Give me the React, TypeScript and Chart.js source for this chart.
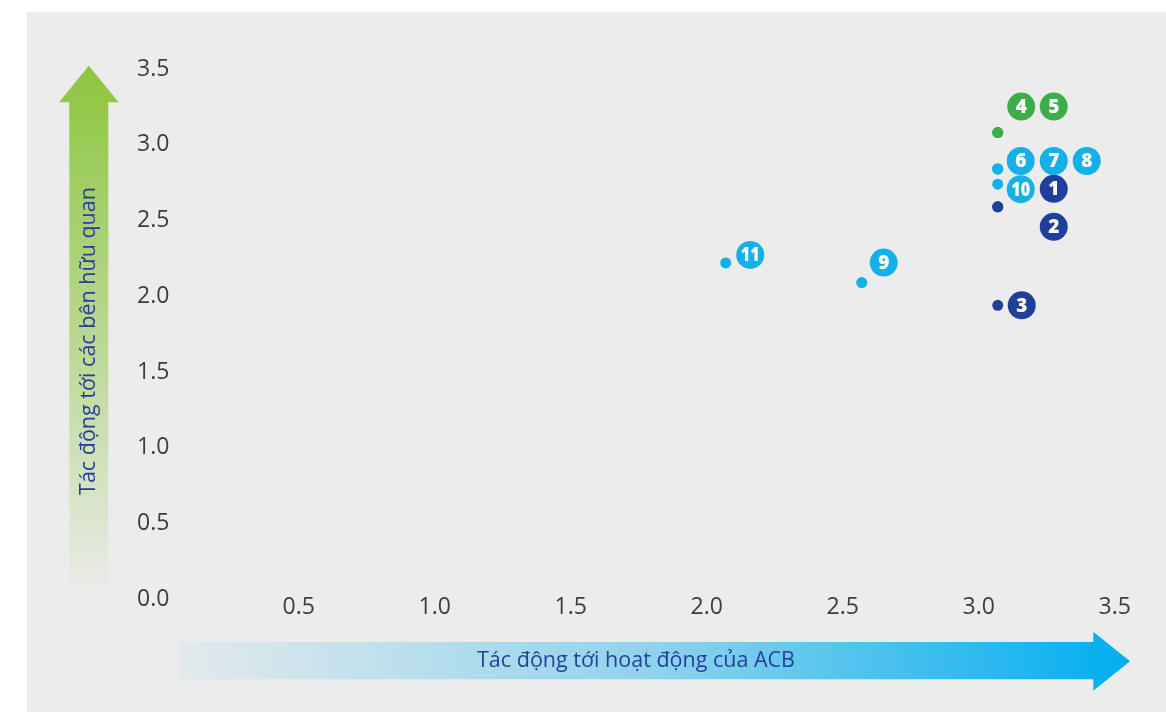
import { useEffect, useRef } from "react";
import { Chart, registerables } from "chart.js";

Chart.register(...registerables);

// Material topics: operational impact (x) vs. stakeholder impact (y)
const topicIds = [1, 2, 3, 4, 5, 6, 7, 8, 9, 10, 11];
const operationImpact = [3.07, 3.07, 3.07, 3.07, 3.07, 3.07, 3.07, 3.07, 2.57, 3.07, 2.07];
const stakeholderImpact = [2.59, 2.59, 1.94, 3.08, 3.08, 2.84, 2.84, 2.84, 2.09, 2.74, 2.22];
const topicGroups = ["navy", "navy", "navy", "green", "green", "cyan", "cyan", "cyan", "cyan", "cyan", "cyan"];
const groupOrder = ["navy", "cyan", "green"];
const axisTicks = [0, 0.5, 1, 1.5, 2, 2.5, 3, 3.5];
const xTitle = "Tác động tới hoạt động của ACB";
const yTitle = "Tác động tới các bên hữu quan";

const W = 1166;
const H = 712;

const groupColors: Record<string, string> = {
  navy: "#203f99",
  cyan: "#16b0e8",
  green: "#3dad4a",
};

// Number badge placement relative to its dot, in pixels
const badgeOffsets: [number, number][] = [
  [56, -18], [56, 20], [24, 0], [23.5, -26], [56, -26], [23, -8],
  [56, -8], [89, -8], [22, -20], [23, 5], [24.5, -8],
];

const TICK_FONT = { family: "'Open Sans', sans-serif", size: 23 };

const backdrop = {
  id: "backdrop",
  beforeDraw(chart: Chart) {
    const ctx = chart.ctx;
    ctx.save();
    ctx.fillStyle = "#ffffff";
    ctx.fillRect(0, 0, W, H);
    ctx.fillStyle = "#ececec";
    ctx.fillRect(27, 12, W - 27, H - 12);

    // vertical arrow (stakeholder axis)
    const vg = ctx.createLinearGradient(0, 66, 0, 587);
    vg.addColorStop(0, "rgba(141,198,63,1)");
    vg.addColorStop(0.5, "rgba(141,198,63,0.55)");
    vg.addColorStop(1, "rgba(141,198,63,0.03)");
    ctx.fillStyle = vg;
    ctx.beginPath();
    ctx.moveTo(88.8, 65.7);
    ctx.lineTo(118.7, 102.3);
    ctx.lineTo(108.3, 102.3);
    ctx.lineTo(108.3, 587);
    ctx.lineTo(69.3, 587);
    ctx.lineTo(69.3, 102.3);
    ctx.lineTo(59, 102.3);
    ctx.closePath();
    ctx.fill();

    // horizontal arrow (operations axis)
    const hg = ctx.createLinearGradient(180, 0, 1130, 0);
    hg.addColorStop(0, "rgba(0,174,239,0.04)");
    hg.addColorStop(0.5, "rgba(0,174,239,0.4)");
    hg.addColorStop(1, "rgba(0,174,239,1)");
    ctx.fillStyle = hg;
    ctx.beginPath();
    ctx.moveTo(180, 642);
    ctx.lineTo(1093.3, 642);
    ctx.lineTo(1093.3, 631.7);
    ctx.lineTo(1130, 661.3);
    ctx.lineTo(1093.3, 690.7);
    ctx.lineTo(1093.3, 679.3);
    ctx.lineTo(180, 679.3);
    ctx.closePath();
    ctx.fill();

    // axis titles
    ctx.fillStyle = "#27409a";
    ctx.font = "21.5px 'Open Sans', sans-serif";
    ctx.textAlign = "center";
    ctx.textBaseline = "middle";
    ctx.fillText(xTitle, 636, 661);
    ctx.translate(89, 341);
    ctx.rotate(-Math.PI / 2);
    ctx.fillText(yTitle, 0, 0);
    ctx.restore();
  },
};

const badges = {
  id: "badges",
  afterDatasetsDraw(chart: Chart) {
    const ctx = chart.ctx;
    ctx.save();
    chart.data.datasets.forEach((ds: any, di: number) => {
      const meta = chart.getDatasetMeta(di);
      meta.data.forEach((el: any, i: number) => {
        const idx = ds.topicIndex[i];
        const [dx, dy] = badgeOffsets[idx];
        const cx = el.x + dx;
        const cy = el.y + dy;
        ctx.beginPath();
        ctx.arc(cx, cy, 14, 0, Math.PI * 2);
        ctx.fillStyle = ds.backgroundColor;
        ctx.fill();
        ctx.fillStyle = "#ffffff";
        ctx.font = "800 19px 'Open Sans', sans-serif";
        ctx.textAlign = "center";
        ctx.textBaseline = "middle";
        const label = String(topicIds[idx]);
        if (label.length > 1) {
          ctx.save();
          ctx.translate(cx, cy + 1);
          ctx.scale(0.85, 1);
          ctx.fillText(label, 0, 0);
          ctx.restore();
        } else {
          ctx.fillText(label, cx, cy + 1);
        }
      });
    });
    ctx.restore();
  },
};

export default function App() {
  const canvasRef = useRef<HTMLCanvasElement | null>(null);

  useEffect(() => {
    if (!canvasRef.current) return;

    const datasets = groupOrder.map((g) => {
      const topicIndex = topicIds.map((_, i) => i).filter((i) => topicGroups[i] === g);
      return {
        label: g,
        data: topicIndex.map((i) => ({ x: operationImpact[i], y: stakeholderImpact[i] })),
        topicIndex,
        backgroundColor: groupColors[g],
        borderWidth: 0,
        pointRadius: 5.5,
        pointHoverRadius: 5.5,
      };
    });

    const chart = new Chart(canvasRef.current, {
      type: "scatter",
      data: { datasets: datasets as any },
      options: {
        animation: false,
        responsive: false,
        devicePixelRatio: 1,
        events: [],
        layout: { padding: { left: 62.7, right: 51.3, top: 69, bottom: 0 } },
        plugins: { legend: { display: false }, tooltip: { enabled: false } },
        scales: {
          x: {
            type: "linear",
            min: 0,
            max: 3.5,
            grid: { display: false },
            border: { display: false },
            afterBuildTicks: (s: any) => {
              s.ticks = axisTicks.map((v) => ({ value: v }));
            },
            afterFit: (s: any) => {
              s.height = H - 599.2;
            },
            ticks: {
              mirror: true,
              padding: -22.4,
              color: "#3d3d3d",
              font: TICK_FONT,
              maxRotation: 0,
              callback: (v: any) => (Number(v) === 0 ? "" : Number(v).toFixed(1)),
            },
          },
          y: {
            type: "linear",
            min: 0,
            max: 3.5,
            grid: { display: false },
            border: { display: false },
            afterBuildTicks: (s: any) => {
              s.ticks = axisTicks.map((v) => ({ value: v }));
            },
            afterFit: (s: any) => {
              s.width = 100;
            },
            ticks: {
              mirror: true,
              padding: -25.7,
              color: "#3d3d3d",
              font: TICK_FONT,
              callback: (v: any) => Number(v).toFixed(1),
            },
          },
        },
      },
      plugins: [backdrop, badges],
    });

    return () => chart.destroy();
  }, []);

  return (
    <div style={{ position: "absolute", left: 0, top: 0, width: W, height: H }}>
      <canvas ref={canvasRef} width={W} height={H} style={{ display: "block" }} />
    </div>
  );
}
